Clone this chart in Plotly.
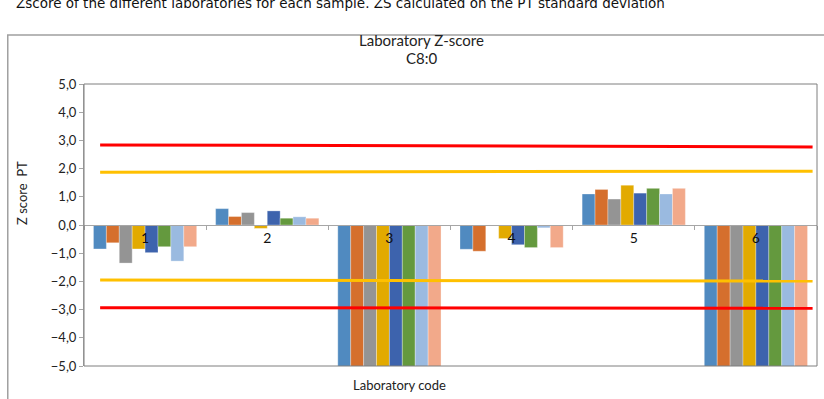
import plotly.graph_objects as go

# categories (laboratory codes) and z-scores for the 8 series
labs = ['1', '2', '3', '4', '5', '6']
s1 = [-0.85, 0.58, -7.0, -0.86, 1.10, -7.0]
s2 = [-0.63, 0.30, -7.0, -0.93, 1.26, -7.0]
s3 = [-1.35, 0.44, -7.0, None, 0.92, -7.0]
s4 = [-0.85, -0.12, -7.0, -0.48, 1.41, -7.0]
s5 = [-0.98, 0.50, -7.0, -0.70, 1.13, -7.0]
s6 = [-0.77, 0.24, -7.0, -0.80, 1.30, -7.0]
s7 = [-1.28, 0.29, -7.0, -0.10, 1.10, -7.0]
s8 = [-0.77, 0.24, -7.0, -0.80, 1.30, -7.0]
series = [s1, s2, s3, s4, s5, s6, s7, s8]

# warning / action limit lines (left end, right end)
limit_x = [0.022, 0.994]
red_up = [2.84, 2.77]
yellow_up = [1.87, 1.91]
yellow_dn = [-1.95, -1.99]
red_dn = [-2.93, -2.95]

y_ticks = [-5, -4, -3, -2, -1, 0, 1, 2, 3, 4, 5]

colors = ['#508AC0', '#D56F2D', '#949494', '#E2AA00',
          '#3D63AD', '#64993E', '#9ABAE0', '#F2A98A']

fig = go.Figure()
for i, vals in enumerate(series):
    fig.add_trace(go.Bar(x=labs, y=vals, name='S%d' % (i + 1),
                         marker=dict(color=colors[i], line=dict(color='rgba(255,255,255,0.5)', width=0.6))))

for vals, col in [(red_up, '#FF0000'), (yellow_up, '#FFC000'),
                  (yellow_dn, '#FFC000'), (red_dn, '#FF0000')]:
    fig.add_trace(go.Scatter(x=limit_x, y=vals, mode='lines', xaxis='x2',
                             line=dict(color=col, width=3), showlegend=False))

font = 'Lato, Open Sans, sans-serif'

fig.update_layout(
    width=824, height=399,
    margin=dict(l=84, r=7, t=84, b=33),
    paper_bgcolor='white', plot_bgcolor='white',
    barmode='group', bargap=0.155, bargroupgap=0,
    showlegend=False,
    separators=',.',
    font=dict(family=font, size=13, color='#222222'),
    xaxis=dict(type='category', anchor='free', position=0.5,
               showline=True, linecolor='#A6A6A6', linewidth=1,
               ticks='outside', tickson='boundaries', ticklen=4, tickcolor='#A6A6A6',
               showgrid=False, zeroline=False,
               tickfont=dict(family=font, size=14, color='#111111')),
    xaxis2=dict(overlaying='x', range=[0, 1], visible=False, anchor='y'),
    yaxis=dict(range=[-5, 5], tickvals=y_ticks, tickformat='.1f',
               showline=True, linecolor='#A6A6A6', linewidth=1,
               ticks='outside', ticklen=4, tickcolor='#A6A6A6',
               showgrid=False, zeroline=False,
               tickfont=dict(family=font, size=13, color='#222222')),
    shapes=[
        dict(type='rect', xref='paper', yref='paper', x0=0, x1=1, y0=0, y1=1,
             line=dict(color='#7F7F7F', width=1), layer='above'),
        dict(type='rect', xref='paper', yref='paper', x0=-0.104, x1=1.1, y0=-0.3, y1=1.174,
             line=dict(color='#A0A0A0', width=1.5), layer='below'),
    ],
    annotations=[
        dict(text='Zscore of the different laboratories for each sample. ZS calculated on the PT standard deviation',
             xref='paper', yref='paper', x=-0.0955, y=1.286, xanchor='left', yanchor='middle',
             showarrow=False, font=dict(family='DejaVu Sans, Verdana, sans-serif', size=13.5, color='#111111')),
        dict(text='Laboratory Z-score', xref='paper', yref='paper', x=0.46, y=(366 - 40) / 282,
             xanchor='center', yanchor='middle', showarrow=False,
             font=dict(family=font, size=15, color='#222222')),
        dict(text='C8:0', xref='paper', yref='paper', x=0.46, y=(366 - 58) / 282,
             xanchor='center', yanchor='middle', showarrow=False,
             font=dict(family=font, size=15, color='#222222')),
        dict(text='Z score  PT', xref='paper', yref='paper', x=-0.0846, y=0.6135,
             xanchor='center', yanchor='middle', textangle=-90, showarrow=False,
             font=dict(family=font, size=13, color='#222222')),
        dict(text='Laboratory code', xref='paper', yref='paper', x=0.431, y=-0.067,
             xanchor='center', yanchor='middle', showarrow=False,
             font=dict(family=font, size=13, color='#222222')),
    ],
)

# the page's body margin would shift the whole chart by 8px
fig.write_html('out.html', config={'displayModeBar': False},
               post_script="document.body.style.margin='0px';")
